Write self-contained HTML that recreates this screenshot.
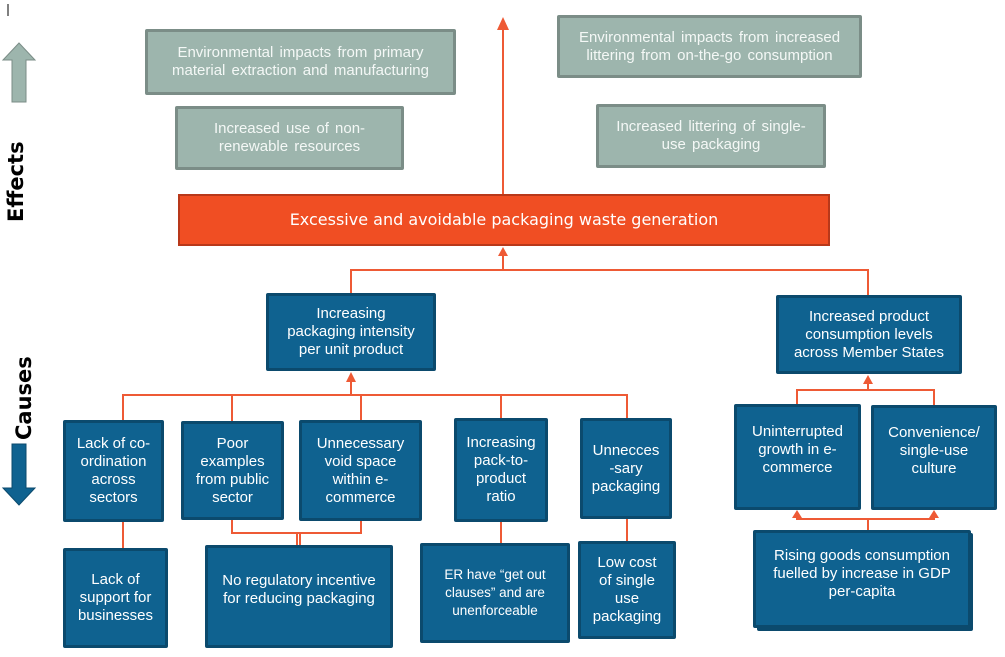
<!DOCTYPE html>
<html><head><meta charset="utf-8"><style>
body{margin:0;width:1005px;height:657px;background:#fff;position:relative;overflow:hidden;font-family:"Liberation Sans",Arial,sans-serif}
.b{position:absolute;box-sizing:border-box;display:flex;align-items:center;justify-content:center;text-align:center;color:#fff;font-size:15px;line-height:18px}
.g{background:#9db5ad;border:3px solid #7b8d87;border-radius:2px;color:#f4f8f6;font-size:15px;word-spacing:2px}
.u{background:#0f6290;border:3px solid #0b4a6d;border-radius:2px}
.r{background:#f04e23;border:2px solid #b8381a;font-size:16px;font-family:"DejaVu Sans","Liberation Sans",sans-serif}
svg{position:absolute;left:0;top:0}
.lab{position:absolute;font-weight:bold;font-size:21px;transform:rotate(-90deg);transform-origin:left top;white-space:nowrap;font-family:"DejaVu Sans","Liberation Sans",sans-serif}
</style></head><body>
<svg width="1005" height="657">
<line x1="8" y1="4" x2="8" y2="16" stroke="#000" stroke-width="1"/>
<polygon points="12,102 26,102 26,60 35,60 19,43 3,60 12,60" fill="#9db5ad" stroke="#7b8d87" stroke-width="1"/>
<polygon points="12,444 26,444 26,488 35,488 19,505 3,488 12,488" fill="#0f6290" stroke="#0b4a6d" stroke-width="1"/>
<g stroke="#ee5a35" stroke-width="2" fill="none">
<line x1="503" y1="194" x2="503" y2="28"/>
<line x1="503" y1="270" x2="503" y2="255"/>
<polyline points="351,293 351,270 868,270 868,295"/>
<line x1="351" y1="395" x2="351" y2="381"/>
<polyline points="123,420 123,395 627,395 627,418"/>
<line x1="232" y1="395" x2="232" y2="421"/>
<line x1="361" y1="395" x2="361" y2="420"/>
<line x1="501" y1="395" x2="501" y2="418"/>
<line x1="123" y1="522" x2="123" y2="548"/>
<polyline points="232,520 232,533 361,533 361,521"/>
<line x1="297" y1="533" x2="297" y2="545"/>
<line x1="300" y1="533" x2="300" y2="545"/>
<line x1="501" y1="522" x2="501" y2="543"/>
<line x1="627" y1="519" x2="627" y2="541"/>
<line x1="868" y1="390" x2="868" y2="383"/>
<polyline points="797,404 797,390 934,390 934,405"/>
<polyline points="797,514 797,519 934,519 934,514"/>
<line x1="868" y1="519" x2="868" y2="530"/>
</g>
<g fill="#ee5a35">
<polygon points="503,17 497,30 509,30"/>
<polygon points="503,247 498,256 508,256"/>
<polygon points="351,372 346,382 356,382"/>
<polygon points="868,375 863,384 873,384"/>
<polygon points="797,510 792,518 802,518"/>
<polygon points="934,510 929,518 939,518"/>
</g>
</svg>
<div class="lab" style="left:4px;top:222px">Effects</div>
<div class="lab" style="left:12px;top:440px">Causes</div>

<div class="b g" style="left:145px;top:29px;width:311px;height:66px">Environmental impacts from primary<br>material extraction and manufacturing</div>
<div class="b g" style="left:175px;top:106px;width:229px;height:64px">Increased use of non-<br>renewable resources</div>
<div class="b g" style="left:557px;top:15px;width:305px;height:63px">Environmental impacts from increased<br>littering from on-the-go consumption</div>
<div class="b g" style="left:596px;top:104px;width:230px;height:64px">Increased littering of single-<br>use packaging</div>
<div class="b r" style="left:178px;top:194px;width:652px;height:52px">Excessive and avoidable packaging waste generation</div>

<div class="b u" style="left:266px;top:293px;width:170px;height:78px">Increasing<br>packaging intensity<br>per unit product</div>
<div class="b u" style="left:776px;top:295px;width:186px;height:79px">Increased product<br>consumption levels<br>across Member States</div>

<div class="b u" style="left:63px;top:420px;width:101px;height:102px">Lack of co-<br>ordination<br>across<br>sectors</div>
<div class="b u" style="left:181px;top:421px;width:103px;height:99px">Poor<br>examples<br>from public<br>sector</div>
<div class="b u" style="left:299px;top:420px;width:123px;height:101px">Unnecessary<br>void space<br>within e-<br>commerce</div>
<div class="b u" style="left:454px;top:418px;width:94px;height:104px">Increasing<br>pack-to-<br>product<br>ratio</div>
<div class="b u" style="left:580px;top:418px;width:92px;height:101px"><span>Unnecces<br>-sary<br>packaging</span></div>
<div class="b u" style="left:734px;top:404px;width:127px;height:106px;padding-bottom:14px">Uninterrupted<br>growth in e-<br>commerce</div>
<div class="b u" style="left:871px;top:405px;width:126px;height:105px;padding-bottom:14px">Convenience/<br>single-use<br>culture</div>

<div class="b u" style="left:63px;top:548px;width:105px;height:100px">Lack of<br>support for<br>businesses</div>
<div class="b u" style="left:205px;top:545px;width:188px;height:103px;padding-bottom:14px">No regulatory incentive<br>for reducing packaging</div>
<div class="b u" style="left:420px;top:543px;width:150px;height:100px;font-size:13.5px">ER have “get out<br>clauses” and are<br>unenforceable</div>
<div class="b u" style="left:578px;top:541px;width:98px;height:98px">Low cost<br>of single<br>use<br>packaging</div>
<div class="b u" style="left:757px;top:533px;width:216px;height:98px;background:#0b4a6d"></div>
<div class="b u" style="left:753px;top:530px;width:218px;height:98px;padding-bottom:10px">Rising goods consumption<br>fuelled by increase in GDP<br>per-capita</div>
</body></html>
